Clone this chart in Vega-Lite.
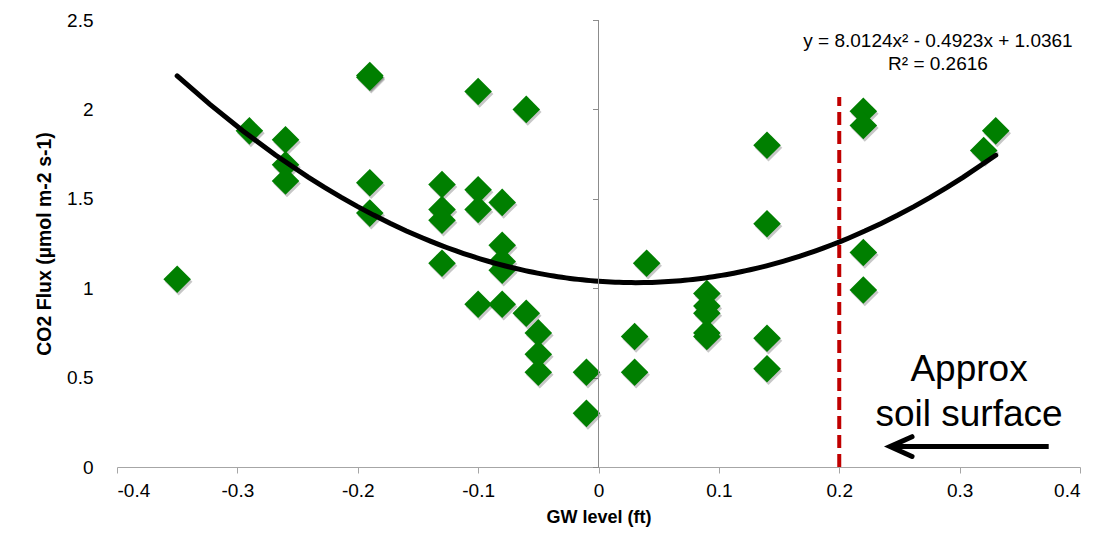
{
  "$schema": "https://vega.github.io/schema/vega-lite/v6.json",
  "width": 963,
  "height": 447,
  "autosize": "none",
  "padding": {"left": 117, "top": 20, "right": 38, "bottom": 86},
  "background": "white",
  "config": {
    "view": {"stroke": null},
    "font": "Liberation Sans",
    "locale": {"number": {"decimal": ".", "thousands": ",", "grouping": [3], "currency": ["$", ""], "minus": "-"}}
  },
  "datasets": {
    "pts": [
      {"gw": -0.35, "flux": 1.05}, {"gw": -0.29, "flux": 1.88}, {"gw": -0.26, "flux": 1.83}, {"gw": -0.26, "flux": 1.69},
      {"gw": -0.26, "flux": 1.6}, {"gw": -0.19, "flux": 2.18}, {"gw": -0.19, "flux": 2.19}, {"gw": -0.19, "flux": 1.59}, {"gw": -0.19, "flux": 1.42},
      {"gw": -0.13, "flux": 1.58}, {"gw": -0.13, "flux": 1.44}, {"gw": -0.13, "flux": 1.38}, {"gw": -0.13, "flux": 1.14},
      {"gw": -0.1, "flux": 2.1}, {"gw": -0.1, "flux": 1.55}, {"gw": -0.1, "flux": 1.44}, {"gw": -0.1, "flux": 0.91},
      {"gw": -0.08, "flux": 1.48}, {"gw": -0.08, "flux": 1.24}, {"gw": -0.08, "flux": 1.15}, {"gw": -0.08, "flux": 1.1},
      {"gw": -0.08, "flux": 0.91}, {"gw": -0.06, "flux": 2.0}, {"gw": -0.06, "flux": 0.86}, {"gw": -0.05, "flux": 0.75},
      {"gw": -0.05, "flux": 0.63}, {"gw": -0.05, "flux": 0.53}, {"gw": -0.01, "flux": 0.53}, {"gw": -0.01, "flux": 0.3},
      {"gw": 0.03, "flux": 0.73}, {"gw": 0.03, "flux": 0.53}, {"gw": 0.04, "flux": 1.14}, {"gw": 0.09, "flux": 0.97},
      {"gw": 0.09, "flux": 0.9}, {"gw": 0.09, "flux": 0.86}, {"gw": 0.09, "flux": 0.75}, {"gw": 0.09, "flux": 0.73},
      {"gw": 0.14, "flux": 1.8}, {"gw": 0.14, "flux": 1.36}, {"gw": 0.14, "flux": 0.72}, {"gw": 0.14, "flux": 0.55},
      {"gw": 0.22, "flux": 1.99}, {"gw": 0.22, "flux": 1.91}, {"gw": 0.22, "flux": 1.2}, {"gw": 0.22, "flux": 0.99},
      {"gw": 0.32, "flux": 1.77}, {"gw": 0.33, "flux": 1.88}
    ],
    "eq": [
      {"gw": 0.282, "flux": 2.38, "label": "y = 8.0124x² - 0.4923x + 1.0361"},
      {"gw": 0.282, "flux": 2.255, "label": "R² = 0.2616"}
    ],
    "note": [
      {"gw": 0.3078, "flux": 0.543, "label": "Approx"},
      {"gw": 0.3078, "flux": 0.291, "label": "soil surface"}
    ],
    "surface": [{"gw": 0.2, "flux": 0, "flux2": 2.07}],
    "arrow": [{"gw": 0.2422, "gw2": 0.374, "flux": 0.114}]
  },
  "resolve": {"axis": {"y": "independent"}},
  "layer": [
    {
      "data": {"name": "pts"},
      "mark": {"type": "point", "shape": "diamond", "filled": true, "size": 760, "color": "#000000", "opacity": 0.22, "xOffset": 1.5, "yOffset": 2.5},
      "encoding": {
        "x": {"field": "gw", "type": "quantitative", "scale": {"domain": [-0.4, 0.4], "nice": false, "zero": false},
          "axis": {"orient": "bottom", "values": [-0.4, -0.3, -0.2, -0.1, 0, 0.1, 0.2, 0.3, 0.4], "format": "~g", "grid": false,
            "domainColor": "#a6a6a6", "tickColor": "#a6a6a6", "tickSize": 6, "labelPadding": 8, "labelFontSize": 19, "labelColor": "#000000",
            "title": "GW level (ft)", "titleFontSize": 18, "titleFontWeight": "bold", "titleColor": "#000000", "titlePadding": 8}},
        "y": {"field": "flux", "type": "quantitative", "scale": {"domain": [0, 2.5], "nice": false, "zero": false},
          "axis": {"orient": "left", "values": [0, 0.5, 1, 1.5, 2, 2.5], "format": "~g", "grid": false, "domain": false, "ticks": false,
            "labelPadding": 24, "labelFontSize": 19, "labelColor": "#000000",
            "title": "CO2 Flux (µmol m-2 s-1)", "titleFontSize": 19.5, "titleFontWeight": "bold", "titleColor": "#000000", "titlePadding": 12}}
      }
    },
    {
      "data": {"name": "pts"},
      "mark": {"type": "point", "shape": "diamond", "filled": true, "size": 760, "color": "#007f00", "opacity": 1},
      "encoding": {
        "x": {"field": "gw", "type": "quantitative"},
        "y": {"field": "flux", "type": "quantitative", "axis": null}
      }
    },
    {
      "data": {"name": "pts"},
      "transform": [{"regression": "flux", "on": "gw", "method": "poly", "order": 2, "extent": [-0.35, 0.33]}],
      "mark": {"type": "line", "color": "#000000", "strokeWidth": 5, "strokeCap": "round"},
      "encoding": {
        "x": {"field": "gw", "type": "quantitative"},
        "y": {"field": "flux", "type": "quantitative", "axis": null}
      }
    },
    {
      "data": {"values": [{}]},
      "mark": {"type": "rule", "color": "#8c8c8c", "strokeWidth": 1},
      "encoding": {
        "x": {"datum": 0, "type": "quantitative"},
        "y": {"datum": 0, "type": "quantitative",
          "axis": {"orient": "left", "offset": -481.5, "values": [0, 0.5, 1, 1.5, 2, 2.5], "labels": false, "title": null, "domain": false,
            "ticks": true, "tickSize": 6, "tickColor": "#8c8c8c", "grid": false}},
        "y2": {"datum": 2.5}
      }
    },
    {
      "data": {"name": "surface"},
      "mark": {"type": "rule", "color": "#c00000", "strokeWidth": 4, "strokeDash": [13, 6]},
      "encoding": {
        "x": {"field": "gw", "type": "quantitative"},
        "y": {"field": "flux", "type": "quantitative", "axis": null},
        "y2": {"field": "flux2"}
      }
    },
    {
      "data": {"name": "arrow"},
      "mark": {"type": "rule", "color": "#000000", "strokeWidth": 5},
      "encoding": {
        "x": {"field": "gw", "type": "quantitative"},
        "x2": {"field": "gw2"},
        "y": {"field": "flux", "type": "quantitative", "axis": null}
      }
    },
    {
      "data": {"name": "arrow"},
      "mark": {"type": "point", "shape": "M1,-0.45L0,0L1,0.45", "size": 1936, "filled": false, "stroke": "#000000", "strokeWidth": 5, "strokeCap": "round", "strokeJoin": "miter", "opacity": 1},
      "encoding": {
        "x": {"field": "gw", "type": "quantitative"},
        "y": {"field": "flux", "type": "quantitative", "axis": null}
      }
    },
    {
      "data": {"name": "eq"},
      "mark": {"type": "text", "fontSize": 19, "color": "#000000", "align": "center", "baseline": "middle"},
      "encoding": {
        "x": {"field": "gw", "type": "quantitative"},
        "y": {"field": "flux", "type": "quantitative", "axis": null},
        "text": {"field": "label"}
      }
    },
    {
      "data": {"name": "note"},
      "mark": {"type": "text", "fontSize": 37, "color": "#000000", "align": "center", "baseline": "middle"},
      "encoding": {
        "x": {"field": "gw", "type": "quantitative"},
        "y": {"field": "flux", "type": "quantitative", "axis": null},
        "text": {"field": "label"}
      }
    }
  ]
}
